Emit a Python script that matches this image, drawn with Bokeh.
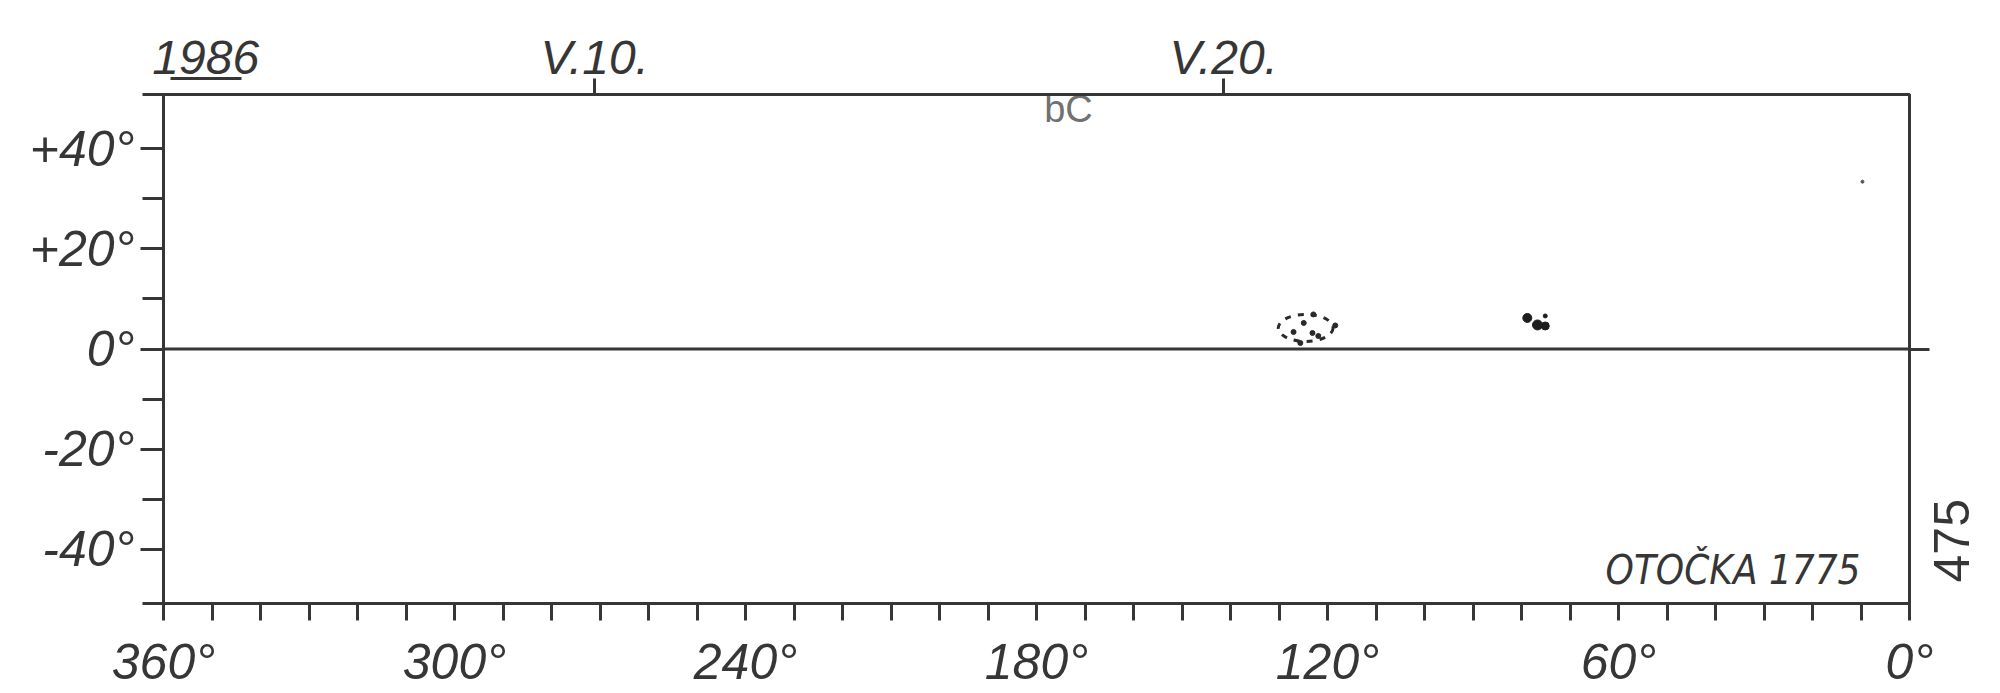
from math import pi
from bokeh.plotting import figure
from bokeh.models import Range1d, LinearAxis, FixedTicker, Label
from bokeh.core.properties import value
from bokeh.embed import file_html
from bokeh.resources import INLINE

# ---- data ----
LON_MAX, LON_MIN = 360, 0
LAT_MIN, LAT_MAX = -50.8, 50.8

lon_major = [360, 300, 240, 180, 120, 60, 0]
lon_major_labels = ["360°", "300°", "240°", "180°", "120°", "60°", "0°"]
lon_minor = [v for v in range(0, 361, 10) if v % 60 != 0]

lat_major = [40, 20, 0, -20, -40]
lat_major_labels = ["+40°", "+20°", "0°", "-20°", "-40°"]
lat_minor = [30, 10, -10, -30]

year_lon = 351.3
year_label = "1986"
year_underline = (343.9, 358.6)
date_lons = [271.1, 141.4]
date_labels = ["V.10.", "V.20."]

rotation_label = "OTOČKA 1775"
sheet_lat = -46.6
sheet_number = "475"

# sunspot group near 124° (dots inside a dashed outline)
g1_lon = [127.0, 122.9, 123.1, 121.9, 125.6, 118.4, 124.9]
g1_lat = [3.4, 6.9, 3.2, 2.6, 1.2, 4.7, 5.2]
g1_ring_lon = [124.5]
g1_ring_lat = [4.2]
g1_ring_w = [11.3]
g1_ring_h = [5.4]
# sunspot group near 77° (small dark blob)
g2_lon = [78.8, 76.7, 75.1, 75.1]
g2_lat = [6.2, 4.8, 4.6, 6.6]
g2_size = [9, 10, 8, 4]

INK = "#363636"
FONT = "Liberation Sans"

p = figure(width=2000, height=693,
           x_range=Range1d(LON_MAX, LON_MIN), y_range=Range1d(LAT_MIN, LAT_MAX),
           output_backend="svg", toolbar_location=None,
           x_axis_location=None, y_axis_location=None,
           min_border_left=163, min_border_right=91,
           min_border_top=94, min_border_bottom=90)
p.grid.visible = False
p.background_fill_color = "white"
p.border_fill_color = "white"
p.outline_line_color = INK
p.outline_line_width = 3


def style(ax, size):
    ax.axis_line_color = INK
    ax.axis_line_width = 3
    ax.major_tick_line_color = INK
    ax.major_tick_line_width = 3
    ax.minor_tick_line_color = INK
    ax.minor_tick_line_width = 3
    ax.major_tick_in = 0
    ax.minor_tick_in = 0
    ax.major_label_text_font = FONT
    ax.major_label_text_font_style = "italic"
    ax.major_label_text_font_size = size
    ax.major_label_text_color = INK


xb = LinearAxis(ticker=FixedTicker(ticks=lon_major, minor_ticks=lon_minor),
                major_label_overrides=dict(zip(lon_major, lon_major_labels)))
style(xb, "50px")
xb.major_tick_out = 17
xb.minor_tick_out = 17
xb.major_label_standoff = 13
p.add_layout(xb, "below")

# left: frame corners overhang like the hand-drawn border lines
yl = LinearAxis(ticker=FixedTicker(ticks=lat_major,
                                   minor_ticks=lat_minor + [LAT_MIN, LAT_MAX]),
                major_label_overrides=dict(zip(lat_major, lat_major_labels)))
style(yl, "50px")
yl.major_tick_out = 23
yl.minor_tick_out = 21
yl.major_label_standoff = 6
p.add_layout(yl, "left")

# top, innermost: date tick marks (minor ticks); reserves space below the rule
xt_marks = LinearAxis(ticker=FixedTicker(ticks=[], minor_ticks=date_lons))
style(xt_marks, "10px")
xt_marks.major_tick_out = 27
xt_marks.minor_tick_out = 16
p.add_layout(xt_marks, "above")

# top, middle: underline of the year (bounded axis rule)
xt_rule = LinearAxis(ticker=FixedTicker(ticks=[], minor_ticks=[]),
                     bounds=year_underline)
style(xt_rule, "10px")
xt_rule.major_tick_out = 0
xt_rule.minor_tick_out = 0
p.add_layout(xt_rule, "above")

# top, outer: year and date labels
top_ticks = [year_lon] + date_lons
xt = LinearAxis(ticker=FixedTicker(ticks=top_ticks, minor_ticks=[]),
                major_label_overrides=dict(zip(top_ticks, [year_label] + date_labels)))
style(xt, "48px")
xt.axis_line_color = None
xt.major_tick_out = 0
xt.minor_tick_out = 0
xt.major_label_standoff = -5
p.add_layout(xt, "above")

# right: sheet number as label, equator overhang as minor tick
yr = LinearAxis(ticker=FixedTicker(ticks=[sheet_lat], minor_ticks=[0]),
                major_label_overrides={sheet_lat: sheet_number},
                major_label_orientation=pi / 2)
style(yr, "50px")
yr.major_label_text_font_style = "normal"
yr.major_tick_out = 0
yr.minor_tick_out = 20
yr.major_label_standoff = 22
p.add_layout(yr, "right")

# equator
p.segment(x0=[LON_MAX], y0=[0], x1=[LON_MIN], y1=[0], line_color=INK, line_width=3)

# sunspot groups
p.ellipse(x=g1_ring_lon, y=g1_ring_lat, width=g1_ring_w, height=g1_ring_h,
          fill_color=None, line_color="#2a2a2a", line_width=3, line_dash="6 7")
p.scatter(x=g1_lon, y=g1_lat, size=5, color="#2a2a2a")
p.scatter(x=g2_lon, y=g2_lat, size=g2_size, color="#1e1e1e")
p.scatter(x=[9.7], y=[33.4], size=3, color="#555555")

# faint show-through marks near the top border
p.text(x=[173.4], y=[47.9], text=["bC"], text_font=value(FONT),
       text_font_size="38px", text_color="#4a4a4a", text_alpha=0.8,
       text_align="center", text_baseline="alphabetic")

p.add_layout(Label(x=10.1, y=-44.2, text=rotation_label,
                   text_font="DejaVu Sans Condensed",
                   text_font_style="italic", text_font_size="40px",
                   text_color=INK, text_align="right",
                   text_baseline="alphabetic"))

open("out.html", "w").write(file_html(p, INLINE))
